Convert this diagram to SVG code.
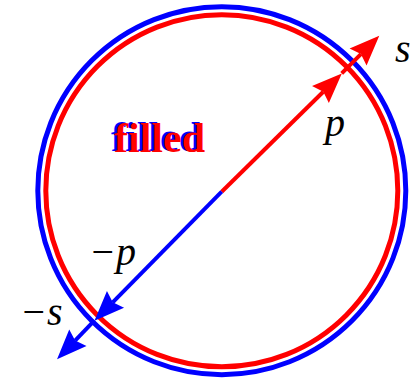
<svg xmlns="http://www.w3.org/2000/svg" width="413" height="383" viewBox="0 0 413 383">
<style>
.lbl{font-family:"Liberation Serif","Times New Roman",serif;font-style:italic;font-size:40px;fill:#000}
.fill{font-family:"Liberation Serif","Times New Roman",serif;font-weight:bold;font-size:42px}
.ring{fill:none;stroke-width:5}
.red{stroke:#ff0000;stroke-width:4;fill:none}
.blue{stroke:#0000ff;stroke-width:4;fill:none}
</style>
<defs>
<marker id="ahR" markerUnits="userSpaceOnUse" markerWidth="30" markerHeight="24" viewBox="0 0 30 24" refX="4" refY="12" orient="auto" overflow="visible">
<path d="M0,0 L30,12 L0,24 L4,12 Z" fill="#ff0000"/>
</marker>
<marker id="ahB" markerUnits="userSpaceOnUse" markerWidth="30" markerHeight="24" viewBox="0 0 30 24" refX="4" refY="12" orient="auto" overflow="visible">
<path d="M0,0 L30,12 L0,24 L4,12 Z" fill="#0000ff"/>
</marker>
</defs>
<rect width="413" height="383" fill="#fff"/>
<g id="circle-s">
<circle class="ring" cx="221.8" cy="190.7" r="184" stroke="#0000ff"/>
</g>
<g id="circle-p">
<circle class="ring" cx="221.8" cy="190.7" r="176" stroke="#ff0000"/>
</g>
<g id="filled-label">
<text class="fill" x="111" y="151" fill="#0000ff">filled</text>
<text class="fill" x="114" y="152" fill="#ff0000">filled</text>
</g>
<g id="connectors">
<line class="red" x1="221.7" y1="191.7" x2="323.3" y2="91.7" marker-end="url(#ahR)"/>
<line class="red" x1="341.7" y1="73.3" x2="360.9" y2="54.1" marker-end="url(#ahR)"/>
<line class="blue" x1="221.7" y1="191.7" x2="112.7" y2="302.3" marker-end="url(#ahB)"/>
<line class="blue" x1="94.3" y1="320.7" x2="75.1" y2="340.6" marker-end="url(#ahB)"/>
</g>
<g id="label-p"><text class="lbl" x="325" y="136">p</text></g>
<g id="label-s"><text class="lbl" x="395" y="62">s</text></g>
<g id="label-mp"><text class="lbl" x="89" y="265">−p</text></g>
<g id="label-ms"><text class="lbl" x="20" y="325">−s</text></g>
</svg>
